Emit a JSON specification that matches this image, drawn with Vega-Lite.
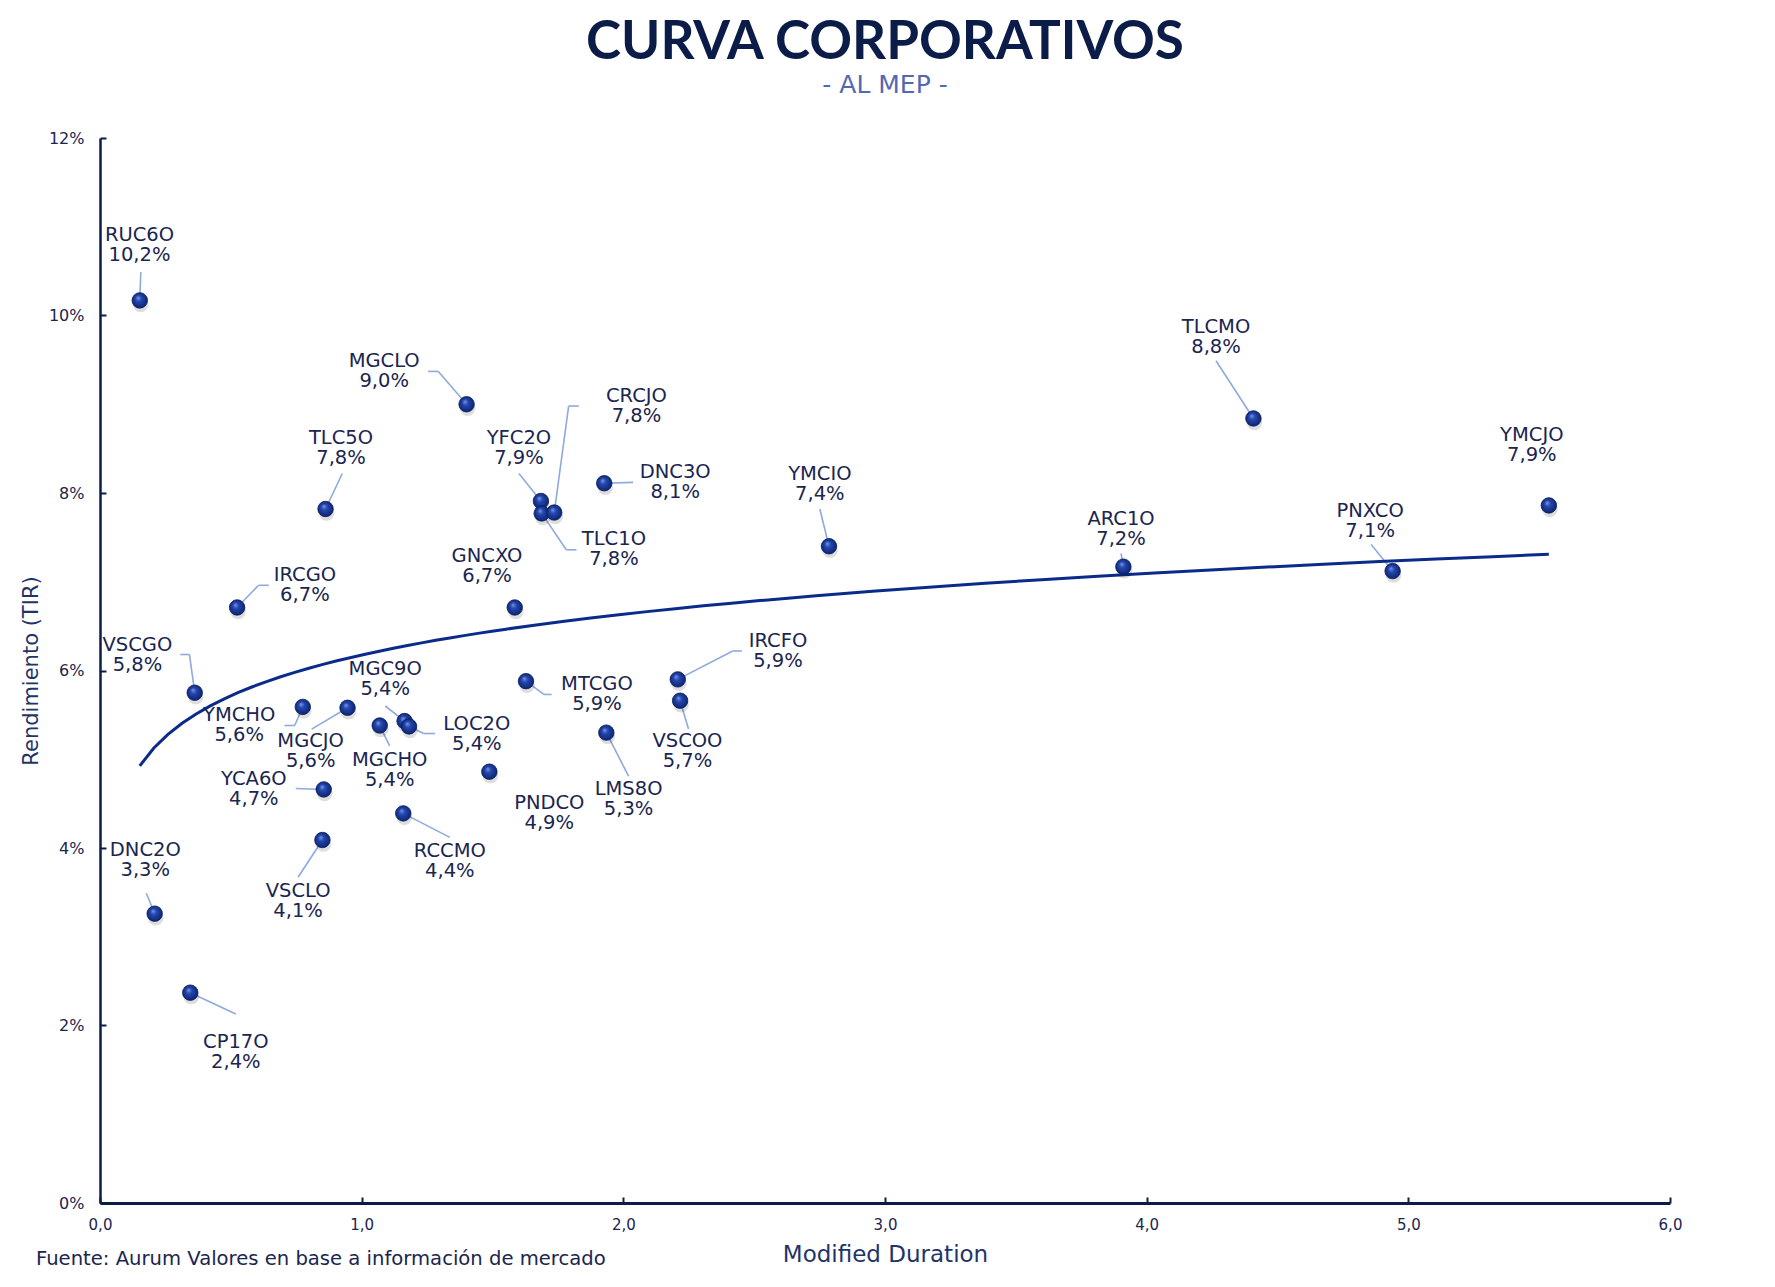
{
  "$schema": "https://vega.github.io/schema/vega-lite/v6.json",
  "autosize": {"type": "pad"},
  "padding": {"left": 20, "top": 17, "right": 92, "bottom": 17},
  "background": "white",
  "config": {
    "locale": {"number": {"decimal": ",", "thousands": ".", "grouping": [3], "currency": ["$", ""]}},
    "font": "DejaVu Sans",
    "view": {"stroke": null},
    "axis": {"grid": false, "labelFlush": false},
    "concat": {"spacing": 0}
  },
  "title": {
    "text": "CURVA CORPORATIVOS",
    "subtitle": "- AL MEP -",
    "anchor": "middle",
    "frame": "group",
    "font": "Lato",
    "fontSize": 53,
    "fontWeight": "bold",
    "color": "#0b1c48",
    "subtitleFont": "DejaVu Sans",
    "subtitleFontSize": 25,
    "subtitleColor": "#5468b0",
    "subtitlePadding": 3,
    "offset": 32
  },
  "datasets": {
    "bonds": [
      {"n": "RUC6O", "x": 0.152, "y": 0.1017, "lx": 0.151, "ly": 0.1079, "mx": 0.156, "my": 0.1049, "ex": null},
      {"n": "DNC2O", "x": 0.209, "y": 0.0326, "lx": 0.173, "ly": 0.0386, "mx": 0.177, "my": 0.0349, "ex": null},
      {"n": "CP17O", "x": 0.345, "y": 0.0237, "lx": 0.519, "ly": 0.0170, "mx": 0.519, "my": 0.0213, "ex": null},
      {"n": "VSCGO", "x": 0.362, "y": 0.0575, "lx": 0.143, "ly": 0.0618, "mx": 0.342, "my": 0.0618, "ex": 0.307},
      {"n": "IRCGO", "x": 0.524, "y": 0.0671, "lx": 0.783, "ly": 0.0696, "mx": 0.606, "my": 0.0696, "ex": 0.645},
      {"n": "TLC5O", "x": 0.862, "y": 0.0782, "lx": 0.921, "ly": 0.0851, "mx": 0.926, "my": 0.0822, "ex": null},
      {"n": "YMCHO", "x": 0.775, "y": 0.0559, "lx": 0.532, "ly": 0.0539, "mx": 0.744, "my": 0.0538, "ex": 0.705},
      {"n": "MGCJO", "x": 0.946, "y": 0.0558, "lx": 0.805, "ly": 0.0509, "mx": 0.809, "my": 0.0534, "ex": null},
      {"n": "YCA6O", "x": 0.855, "y": 0.0466, "lx": 0.588, "ly": 0.0467, "mx": 0.748, "my": 0.0467, "ex": null},
      {"n": "VSCLO", "x": 0.850, "y": 0.0409, "lx": 0.757, "ly": 0.0340, "mx": 0.757, "my": 0.0367, "ex": null},
      {"n": "MGCHO", "x": 1.069, "y": 0.0538, "lx": 1.107, "ly": 0.0488, "mx": 1.107, "my": 0.0515, "ex": null},
      {"n": "MGC9O", "x": 1.164, "y": 0.0543, "lx": 1.090, "ly": 0.0590, "mx": 1.090, "my": 0.0560, "ex": null},
      {"n": "LOC2O", "x": 1.181, "y": 0.0537, "lx": 1.440, "ly": 0.0529, "mx": 1.237, "my": 0.0529, "ex": 1.280},
      {"n": "RCCMO", "x": 1.159, "y": 0.0439, "lx": 1.337, "ly": 0.0385, "mx": 1.337, "my": 0.0412, "ex": null},
      {"n": "MGCLO", "x": 1.401, "y": 0.0900, "lx": 1.086, "ly": 0.0937, "mx": 1.293, "my": 0.0937, "ex": 1.254},
      {"n": "PNDCO", "x": 1.488, "y": 0.0486, "lx": 1.717, "ly": 0.0439, "mx": null, "my": null, "ex": null},
      {"n": "GNCXO", "x": 1.585, "y": 0.0671, "lx": 1.479, "ly": 0.0718, "mx": null, "my": null, "ex": null},
      {"n": "MTCGO", "x": 1.628, "y": 0.0588, "lx": 1.899, "ly": 0.0574, "mx": 1.696, "my": 0.0573, "ex": 1.726},
      {"n": "YFC2O", "x": 1.685, "y": 0.0791, "lx": 1.601, "ly": 0.0851, "mx": 1.601, "my": 0.0822, "ex": null},
      {"n": "TLC1O", "x": 1.688, "y": 0.0777, "lx": 1.964, "ly": 0.0737, "mx": 1.782, "my": 0.0736, "ex": 1.821},
      {"n": "CRCJO", "x": 1.736, "y": 0.0778, "lx": 2.050, "ly": 0.0898, "mx": 1.791, "my": 0.0898, "ex": 1.830},
      {"n": "DNC3O", "x": 1.927, "y": 0.0811, "lx": 2.198, "ly": 0.0812, "mx": 2.037, "my": 0.0812, "ex": null},
      {"n": "LMS8O", "x": 1.935, "y": 0.0530, "lx": 2.020, "ly": 0.0455, "mx": 2.020, "my": 0.0481, "ex": null},
      {"n": "IRCFO", "x": 2.208, "y": 0.0590, "lx": 2.591, "ly": 0.0622, "mx": 2.418, "my": 0.0622, "ex": 2.453},
      {"n": "VSCOO", "x": 2.217, "y": 0.0566, "lx": 2.245, "ly": 0.0509, "mx": 2.249, "my": 0.0534, "ex": null},
      {"n": "YMCIO", "x": 2.786, "y": 0.0740, "lx": 2.751, "ly": 0.0810, "mx": 2.751, "my": 0.0782, "ex": null},
      {"n": "ARC1O", "x": 3.911, "y": 0.0717, "lx": 3.902, "ly": 0.0760, "mx": 3.902, "my": 0.0732, "ex": null},
      {"n": "TLCMO", "x": 4.408, "y": 0.0884, "lx": 4.265, "ly": 0.0976, "mx": 4.265, "my": 0.0949, "ex": null},
      {"n": "PNXCO", "x": 4.940, "y": 0.0712, "lx": 4.854, "ly": 0.0769, "mx": 4.858, "my": 0.0742, "ex": null},
      {"n": "YMCJO", "x": 5.537, "y": 0.0786, "lx": 5.472, "ly": 0.0854, "mx": null, "my": null, "ex": null}
    ]
  },
  "vconcat": [
    {
      "width": 1570,
      "height": 1065,
      "title": {
        "text": "Fuente: Aurum Valores en base a información de mercado",
        "orient": "bottom",
        "anchor": "start",
        "frame": "group",
        "font": "DejaVu Sans",
        "fontSize": 19.6,
        "fontWeight": "normal",
        "color": "#1a2550",
        "dx": -64,
        "offset": -16
      },
      "data": {"name": "bonds"},
      "layer": [
        {
          "transform": [{"filter": "datum.mx != null"}],
          "mark": {"type": "rule", "color": "#8faadc", "strokeWidth": 1.6},
          "encoding": {
            "x": {"field": "x", "type": "quantitative", "scale": {"domain": [0, 6], "nice": false},
              "axis": {"title": "Modified Duration", "values": [0, 1, 2, 3, 4, 5, 6], "format": ".1f", "grid": false, "labelFlush": false,
                "domainColor": "#0b1c48", "domainWidth": 3.2, "tickColor": "#0b1c48", "tickWidth": 2, "tickSize": -6,
                "labelFontSize": 15, "labelColor": "#1a2550", "labelPadding": 20,
                "titleFontSize": 23, "titleFontWeight": "normal", "titleColor": "#1f3468", "titlePadding": 11}},
            "y": {"field": "y", "type": "quantitative", "scale": {"domain": [0, 0.12], "nice": false},
              "axis": {"title": "Rendimiento (TIR)", "values": [0, 0.02, 0.04, 0.06, 0.08, 0.1, 0.12], "format": ".0%", "grid": false, "labelFlush": false,
                "domainColor": "#0b1c48", "domainWidth": 2.5, "tickColor": "#0b1c48", "tickWidth": 2, "tickSize": -6,
                "labelFontSize": 16, "labelColor": "#1a2550", "labelPadding": 22,
                "titleFontSize": 21, "titleFontWeight": "normal", "titleColor": "#1f3468", "titlePadding": 7}},
            "x2": {"field": "mx"},
            "y2": {"field": "my"}
          }
        },
        {
          "transform": [{"filter": "datum.ex != null"}],
          "mark": {"type": "rule", "color": "#8faadc", "strokeWidth": 1.6},
          "encoding": {
            "x": {"field": "mx", "type": "quantitative", "scale": {"domain": [0, 6], "nice": false}},
            "x2": {"field": "ex"},
            "y": {"field": "my", "type": "quantitative", "scale": {"domain": [0, 0.12], "nice": false}}
          }
        },
        {
          "transform": [{"regression": "y", "on": "x", "method": "log"}],
          "mark": {"type": "line", "color": "#0a2b8a", "strokeWidth": 3},
          "encoding": {
            "x": {"field": "x", "type": "quantitative", "scale": {"domain": [0, 6], "nice": false}},
            "y": {"field": "y", "type": "quantitative", "scale": {"domain": [0, 0.12], "nice": false}}
          }
        },
        {
          "mark": {"type": "point", "filled": true, "size": 240, "color": "#000000", "opacity": 0.13, "yOffset": 4, "xOffset": 1},
          "encoding": {
            "x": {"field": "x", "type": "quantitative", "scale": {"domain": [0, 6], "nice": false}},
            "y": {"field": "y", "type": "quantitative", "scale": {"domain": [0, 0.12], "nice": false}}
          }
        },
        {
          "mark": {"type": "point", "filled": true, "size": 240, "opacity": 1, "stroke": "#0a1d5c", "strokeWidth": 0.8,
            "color": {"gradient": "radial", "x1": 0.38, "y1": 0.32, "r1": 0, "x2": 0.5, "y2": 0.5, "r2": 0.55,
              "stops": [{"offset": 0, "color": "#7d9ae6"}, {"offset": 0.35, "color": "#2447b0"}, {"offset": 1, "color": "#0b2168"}]}},
          "encoding": {
            "x": {"field": "x", "type": "quantitative", "scale": {"domain": [0, 6], "nice": false}},
            "y": {"field": "y", "type": "quantitative", "scale": {"domain": [0, 0.12], "nice": false}}
          }
        },
        {
          "mark": {"type": "text", "fontSize": 19.5, "color": "#1a2550", "align": "center", "baseline": "middle", "dy": -10},
          "encoding": {
            "x": {"field": "lx", "type": "quantitative", "scale": {"domain": [0, 6], "nice": false}},
            "y": {"field": "ly", "type": "quantitative", "scale": {"domain": [0, 0.12], "nice": false}},
            "text": {"field": "n"}
          }
        },
        {
          "mark": {"type": "text", "fontSize": 19.5, "color": "#1a2550", "align": "center", "baseline": "middle", "dy": 10},
          "encoding": {
            "x": {"field": "lx", "type": "quantitative", "scale": {"domain": [0, 6], "nice": false}},
            "y": {"field": "ly", "type": "quantitative", "scale": {"domain": [0, 0.12], "nice": false}},
            "text": {"field": "y", "type": "quantitative", "format": ".1%"}
          }
        }
      ]
    }
  ]
}
